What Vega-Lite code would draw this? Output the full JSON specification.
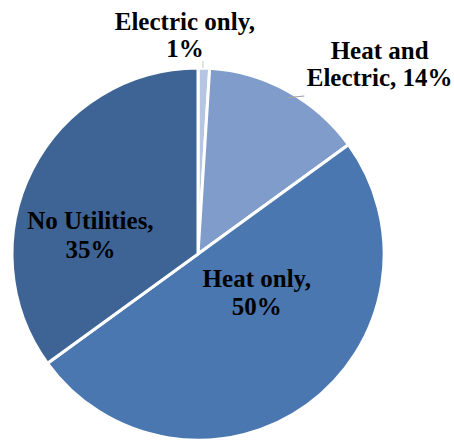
{
  "$schema": "https://vega.github.io/schema/vega-lite/v6.json",
  "width": 376,
  "height": 372,
  "autosize": {"type": "none"},
  "padding": {"left": 10, "top": 68, "right": 68, "bottom": 4},
  "background": "white",
  "config": {"view": {"stroke": null}},
  "data": {
    "values": [
      {"category": "Electric only", "share": 1, "label": "Electric only,\n1%"},
      {"category": "Heat and Electric", "share": 14, "label": "Heat and\nElectric, 14%"},
      {"category": "Heat only", "share": 50, "label": "Heat only,\n50%"},
      {"category": "No Utilities", "share": 35, "label": "No Utilities,\n35%"}
    ]
  },
  "encoding": {
    "theta": {"field": "share", "type": "quantitative", "stack": true},
    "order": {"field": "category", "type": "nominal"}
  },
  "layer": [
    {
      "mark": {"type": "arc", "outerRadius": 186, "stroke": "white", "strokeWidth": 3},
      "encoding": {
        "color": {
          "field": "category",
          "type": "nominal",
          "scale": {
            "domain": ["Electric only", "Heat and Electric", "Heat only", "No Utilities"],
            "range": ["#b5c5e2", "#7f9ccb", "#4a77b0", "#3e6496"]
          },
          "legend": null
        }
      }
    },
    {
      "mark": {"type": "text", "text": "|", "radius": 190, "dx": -1, "dy": 0, "fontSize": 7, "font": "Liberation Sans", "color": "#a6a6a6"},
      "encoding": {"opacity": {"condition": {"test": "datum.category === 'Electric only'", "value": 1}, "value": 0}}
    },
    {
      "mark": {"type": "text", "text": "\u2014", "radius": 185, "dx": 8, "dy": 5, "angle": 354, "fontSize": 17, "font": "Liberation Sans", "color": "#a6a6a6"},
      "encoding": {"opacity": {"condition": {"test": "datum.category === 'Heat and Electric'", "value": 1}, "value": 0}}
    },
    {
      "mark": {"type": "text", "radius": 219, "dx": -20, "dy": -13, "font": "Liberation Serif", "fontWeight": "bold", "fontSize": 25, "lineBreak": "\n", "lineHeight": 27, "color": "black"},
      "encoding": {"text": {"condition": {"test": "datum.category === 'Electric only'", "field": "label"}, "value": ""}}
    },
    {
      "mark": {"type": "text", "radius": 240, "dx": 66, "dy": 7, "font": "Liberation Serif", "fontWeight": "bold", "fontSize": 25, "lineBreak": "\n", "lineHeight": 27, "color": "black"},
      "encoding": {"text": {"condition": {"test": "datum.category === 'Heat and Electric'", "field": "label"}, "value": ""}}
    },
    {
      "mark": {"type": "text", "radius": 66, "dx": 20, "dy": -28, "font": "Liberation Serif", "fontWeight": "bold", "fontSize": 25, "lineBreak": "\n", "lineHeight": 28, "color": "black"},
      "encoding": {"text": {"condition": {"test": "datum.category === 'Heat only'", "field": "label"}, "value": ""}}
    },
    {
      "mark": {"type": "text", "radius": 105, "dx": -14, "dy": 15, "font": "Liberation Serif", "fontWeight": "bold", "fontSize": 25, "lineBreak": "\n", "lineHeight": 29, "color": "black"},
      "encoding": {"text": {"condition": {"test": "datum.category === 'No Utilities'", "field": "label"}, "value": ""}}
    }
  ]
}
